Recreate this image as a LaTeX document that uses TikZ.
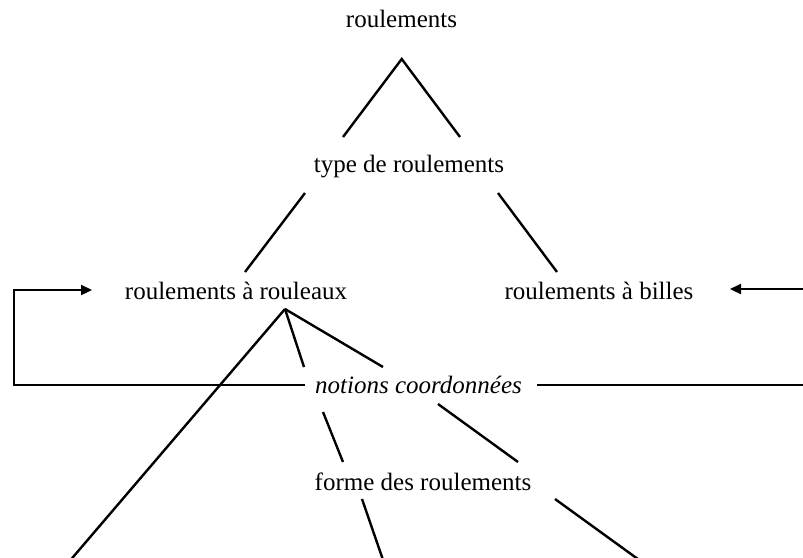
\documentclass[tikz,border=0pt]{standalone}
\usepackage{fontspec}
\setmainfont{Liberation Serif}
\usetikzlibrary{arrows.meta}
\begin{document}
\begin{tikzpicture}[x=1pt,y=-1pt,
  lbl/.style={anchor=base,inner sep=0pt,font=\fontsize{25}{30}\selectfont},
  link/.style={line width=2.4pt,line cap=butt},
  fb/.style={line width=2.3pt,-{Triangle[length=11pt,width=10pt]}}]
\useasboundingbox (0,0) rectangle (803,557);
\clip (0,0) rectangle (803,557);
% nodes
\node[lbl] (r0) at (401.5,27) {roulements};
\node[lbl] (r1) at (409,172) {type de roulements};
\node[lbl] (r2) at (236,299) {roulements à rouleaux};
\node[lbl] (r3) at (599,299) {roulements à billes};
\node[lbl,font=\fontsize{25}{30}\selectfont\itshape] (nc) at (418.5,393) {notions coordonnées};
\node[lbl] (fr) at (423,490) {forme des roulements};
% connector end points
\coordinate (r0d) at (401.7,59);
\coordinate (r1l) at (343,137);
\coordinate (r1r) at (460,137);
\coordinate (r1dl) at (305,193);
\coordinate (r1dr) at (498,193);
\coordinate (r2u) at (245,272);
\coordinate (r3u) at (557,272);
\coordinate (r2d) at (285,309);
\coordinate (x1) at (62,570);
\coordinate (ncl) at (304,367);
\coordinate (ncr) at (383,367);
\coordinate (ncdl) at (323,412);
\coordinate (ncdr) at (438,404);
\coordinate (frl) at (343,462);
\coordinate (frr) at (518,462);
\coordinate (frdl) at (362,499);
\coordinate (frdr) at (555,499);
\coordinate (x2) at (386.5,570);
\coordinate (x3) at (653,570);
% tree links
\draw[link] (r1l) -- (r0d) -- (r1r);
\draw[link] (r1dl) -- (r2u);
\draw[link] (r1dr) -- (r3u);
\draw[link] (r2d) -- (x1);
\draw[link] (r2d) -- (ncl);
\draw[link] (r2d) -- (ncr);
\draw[link] (ncdl) -- (frl);
\draw[link] (ncdr) -- (frr);
\draw[link] (frdl) -- (x2);
\draw[link] (frdr) -- (x3);
% feedback arrows
\coordinate (ncW) at (305,385);
\coordinate (LB) at (14,385);
\coordinate (LT) at (14,290);
\coordinate (r2W) at (92,290);
\coordinate (ncE) at (537,385);
\coordinate (RB) at (812,385);
\coordinate (RT) at (812,289);
\coordinate (r3E) at (730,289);
\draw[fb] (ncW) -- (LB) -- (LT) -- (r2W);
\draw[fb] (ncE) -- (RB) -- (RT) -- (r3E);
\end{tikzpicture}
\end{document}
